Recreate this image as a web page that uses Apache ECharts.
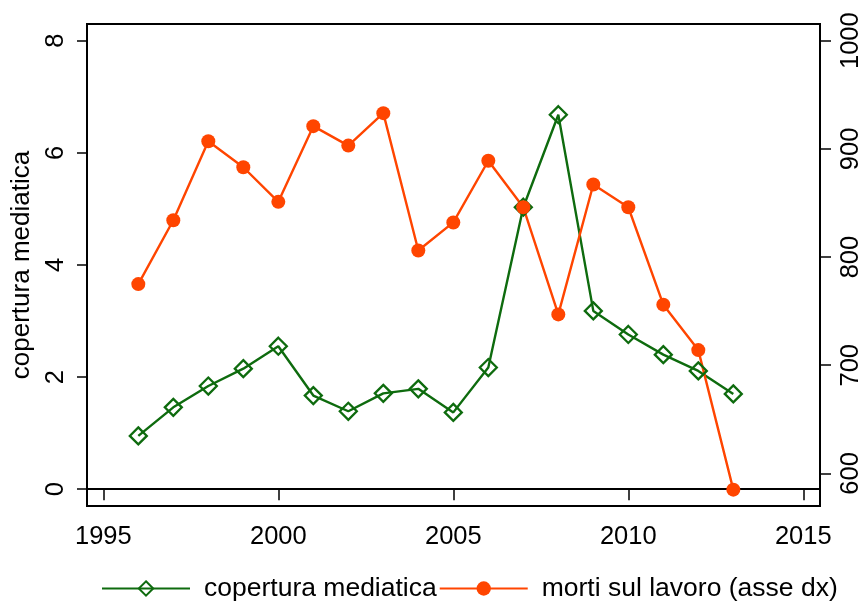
<!DOCTYPE html>
<html>
<head>
<meta charset="utf-8">
<script src="https://cdn.jsdelivr.net/npm/echarts@6/dist/echarts.min.js"></script>
<style>
html,body{margin:0;padding:0;background:#fff;}
#c{width:867px;height:603px;}
</style>
</head>
<body>
<div id="c"></div>
<script>
const years = [1996,1997,1998,1999,2000,2001,2002,2003,2004,2005,2006,2007,2008,2009,2010,2011,2012,2013];
const copertura = [0.95,1.46,1.84,2.15,2.55,1.67,1.39,1.71,1.79,1.37,2.17,5.03,6.68,3.18,2.76,2.40,2.11,1.70];
const morti = [775,834,907,883,851,921,903,933,806,832,889,846,747,867,846,756,714,585];
const xTicks = [1995,2000,2005,2010,2015];
const leftTicks = [0,2,4,6,8];
const rightTicks = [600,700,800,900,1000];

const GREEN = '#0e6b0e';
const ORANGE = '#ff4500';
const FONT = 'Liberation Sans, Arial, sans-serif';

const chart = echarts.init(document.getElementById('c'), null, {renderer:'canvas'});
const axisCommon = {
  axisLine:{show:true, lineStyle:{color:'#000', width:2}},
  splitLine:{show:false},
};
chart.setOption({
  animation:false,
  textStyle:{fontFamily:FONT},
  grid:{left:87, right:47, top:24, bottom:97, show:true, borderColor:'#000', borderWidth:2, containLabel:false},
  legend:{
    bottom:-4, left:96, itemWidth:88, itemHeight:18, itemGap:2,
    textStyle:{fontSize:26.5, color:'#000', fontFamily:FONT, padding:[0,0,0,9]},
    data:['copertura mediatica','morti sul lavoro (asse dx)']
  },
  xAxis:Object.assign({}, axisCommon, {
    type:'value', min:1994.534, max:2015.477,
    axisTick:{show:true, length:11, lineStyle:{color:'#000', width:1.5}, customValues:xTicks},
    axisLabel:{customValues:xTicks, fontSize:25.5, color:'#000', margin:18, fontFamily:FONT, formatter:v=>String(v)}
  }),
  yAxis:[
    Object.assign({}, axisCommon, {
      type:'value', position:'left', min:-0.300, max:8.298,
      name:'copertura mediatica', nameLocation:'middle', nameGap:48,
      nameTextStyle:{fontSize:26, color:'#000', fontFamily:FONT},
      axisTick:{show:true, length:10, lineStyle:{color:'#000', width:1.5}, customValues:leftTicks},
      axisLabel:{customValues:leftTicks, rotate:90, fontSize:25.5, color:'#000', margin:18, fontFamily:FONT, formatter:v=>String(v)}
    }),
    Object.assign({}, axisCommon, {
      type:'value', position:'right', min:569.9, max:1015.4,
      axisTick:{show:true, length:11, lineStyle:{color:'#000', width:1.5}, customValues:rightTicks},
      axisLabel:{customValues:rightTicks, rotate:90, fontSize:25.5, color:'#000', margin:18, fontFamily:FONT, formatter:v=>String(v)}
    })
  ],
  series:[
    {
      name:'copertura mediatica', type:'line', yAxisIndex:0,
      data:years.map((y,i)=>[y, copertura[i]]),
      symbol:'diamond', symbolSize:17, showAllSymbol:true,
      lineStyle:{color:GREEN, width:2.4},
      itemStyle:{color:'rgba(255,255,255,0)', borderColor:GREEN, borderWidth:2.3},
      emphasis:{disabled:true}
    },
    {
      name:'morti sul lavoro (asse dx)', type:'line', yAxisIndex:1,
      data:years.map((y,i)=>[y, morti[i]]),
      symbol:'circle', symbolSize:14, showAllSymbol:true,
      lineStyle:{color:ORANGE, width:2.4},
      itemStyle:{color:ORANGE, borderWidth:0},
      emphasis:{disabled:true}
    }
  ]
});
</script>
</body>
</html>
